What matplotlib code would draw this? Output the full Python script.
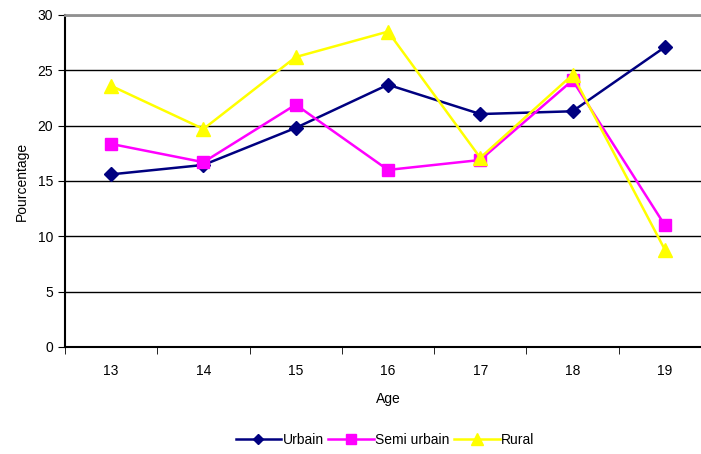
import matplotlib.pyplot as plt
import numpy as np

plt.rcParams['font.family'] = ['Liberation Sans', 'DejaVu Sans']

ages = [13, 14, 15, 16, 17, 18, 19]
urbain = [15.6, 16.45, 19.8, 23.7, 21.05, 21.3, 27.1]
semi_urbain = [18.35, 16.7, 21.9, 16.0, 16.9, 24.1, 11.0]
rural = [23.6, 19.7, 26.2, 28.5, 17.1, 24.6, 8.8]

fig = plt.figure(figsize=(7.01, 4.54), dpi=100)
# plot area runs past the right edge, like the original screenshot
ax = fig.add_axes([65 / 701, 1 - 347 / 454, 646 / 701, 332 / 454])

ax.plot(ages, urbain, color='#000080', marker='D', ms=7, lw=1.8, label='Urbain')
ax.plot(ages, semi_urbain, color='#FF00FF', marker='s', ms=9, lw=1.8, label='Semi urbain')
ax.plot(ages, rural, color='#FFFF00', marker='^', ms=10, lw=1.8, label='Rural')

ax.set_xlim(12.5, 19.5)
ax.set_ylim(0, 30)
ax.set_yticks(range(0, 31, 5))
ax.set_xticks(ages)
ax.set_xticks(np.arange(12.5, 19.6, 1), minor=True)
ax.tick_params(axis='x', which='major', length=0, pad=12, labelsize=10)
ax.tick_params(axis='x', which='minor', length=5, direction='out')
ax.tick_params(axis='y', length=5, labelsize=10)
ax.grid(axis='y', color='black', lw=1)
ax.set_axisbelow(True)

ax.spines['right'].set_visible(False)
ax.spines['top'].set_color('#909090')
ax.spines['top'].set_linewidth(2)
ax.spines['left'].set_linewidth(1.5)
ax.spines['bottom'].set_linewidth(1.5)

ax.set_xlabel('Age', fontsize=10, labelpad=10)
ax.set_ylabel('Pourcentage', fontsize=10, labelpad=6)

fig.legend(loc='center', bbox_to_anchor=(385 / 701, 1 - 440 / 454), ncol=3,
           frameon=False, fontsize=10, handlelength=3.3, columnspacing=0.3,
           handletextpad=0.1, markerscale=0.8)

fig.savefig('out.png', dpi=100)
